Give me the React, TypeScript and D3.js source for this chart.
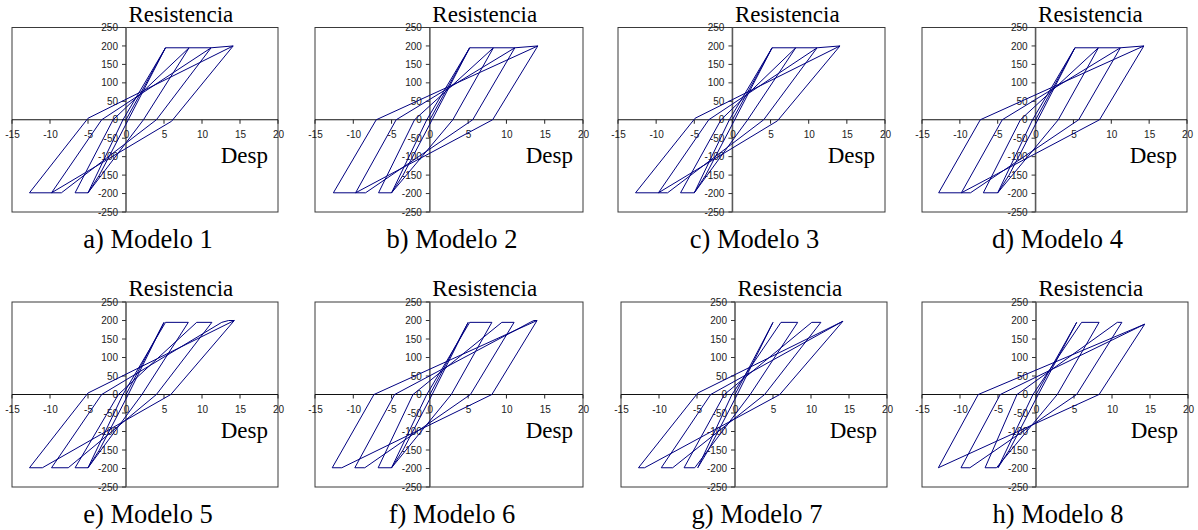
import React from "react";
import * as d3 from "d3";

type Pt = [number, number];

// Hysteresis curves (Desp, Resistencia)
const modelo1: Pt[] = [
  [0, 0], [5.2, 195], [0.3, 0], [-3.5, -150], [-5.0, -198], [-0.4, 0], [5.2, 195], [8.3, 195],
  [2.3, 0], [-5.0, -198], [-6.7, -198], [-1.7, 0], [8.3, 195], [11.2, 195],
  [4.0, 0], [-8.5, -198], [-9.8, -198], [-3.2, 0], [11.2, 195], [14.1, 200],
  [6.0, -4], [-9.8, -198], [-12.7, -198], [-5.0, 4], [14.1, 200],
];
const modelo2: Pt[] = [
  [0, 0], [5.2, 195], [0.3, 0], [-3.5, -150], [-5.0, -198], [-0.4, 0], [5.2, 195], [8.3, 195],
  [3.0, 0], [-5.0, -198], [-6.7, -198], [-2.0, 0], [8.3, 195], [11.1, 195],
  [5.6, 0], [-8.4, -198], [-9.7, -198], [-4.4, 0], [11.1, 195], [14.1, 200],
  [8.2, 0], [-9.7, -198], [-12.6, -198], [-7.0, 0], [14.1, 200],
];
const modelo3: Pt[] = [
  [0, 0], [5.2, 195], [0.3, 0], [-3.5, -150], [-5.0, -198], [-0.4, 0], [5.2, 195], [8.3, 195],
  [2.0, 0], [-5.0, -198], [-6.8, -198], [-1.5, 0], [8.3, 195], [11.1, 195],
  [4.1, 0], [-8.5, -198], [-9.7, -198], [-3.1, 0], [11.1, 195], [14.1, 200],
  [5.9, -3], [-9.7, -198], [-12.7, -198], [-4.9, 4], [14.1, 200],
];
const modelo4: Pt[] = [
  [0, 0], [5.2, 195], [0.3, 0], [-3.5, -150], [-5.0, -198], [-0.4, 0], [5.2, 195], [8.3, 195],
  [3.0, 0], [-5.0, -198], [-6.9, -198], [-2.0, 0], [8.3, 195], [11.2, 195],
  [5.7, 0], [-8.6, -198], [-9.8, -198], [-4.4, 0], [11.2, 195], [14.3, 200],
  [8.45, 0], [-9.8, -198], [-12.8, -198], [-7.3, 0], [14.3, 200],
];
const modelo5: Pt[] = [
  [0, 0], [5.0, 195], [0.3, 0], [-3.5, -150], [-5.0, -198], [-0.4, 0], [5.2, 195], [8.2, 195],
  [2.1, 0], [-5.0, -198], [-6.7, -198], [-1.0, 0], [9.3, 195], [11.3, 195],
  [4.0, 0], [-7.6, -198], [-9.8, -198], [-3.2, 0], [12.6, 195], [13.5, 200], [14.25, 200],
  [5.9, 0], [-11.0, -198], [-12.7, -198], [-5.0, 4], [14.25, 200],
];
const modelo6: Pt[] = [
  [0, 0], [5.0, 195], [0.3, 0], [-3.5, -150], [-5.0, -198], [-0.4, 0], [5.2, 195], [8.1, 195],
  [2.8, 0], [-5.0, -198], [-6.75, -198], [-2.2, 0], [9.4, 195], [11.0, 195],
  [5.3, 0], [-8.5, -198], [-9.8, -198], [-4.6, 0], [13.1, 195], [13.6, 200], [14.0, 200],
  [8.1, 0], [-11.5, -198], [-12.75, -198], [-7.3, 0], [14.0, 200],
];
const modelo7: Pt[] = [
  [0, 0], [5.0, 195], [0.3, 0], [-3.5, -150], [-4.9, -198], [-0.4, 0], [6.05, 195], [8.25, 195],
  [2.0, 0], [-5.3, -198], [-6.7, -198], [-1.4, 0], [10.1, 195], [11.3, 195],
  [3.9, 0], [-8.2, -198], [-9.7, -198], [-3.2, 0], [14.2, 198],
  [5.9, 0], [-11.9, -198], [-12.7, -198], [-4.9, 4], [14.2, 198],
];
const modelo8: Pt[] = [
  [0, 0], [5.35, 195], [0.3, 0], [-3.5, -150], [-5.0, -198], [-0.4, 0], [6.0, 195], [8.3, 195],
  [2.8, 0], [-5.2, -198], [-6.7, -198], [-2.5, 0], [10.7, 195], [11.3, 195],
  [5.35, 0], [-8.7, -198], [-9.87, -198], [-4.7, 0], [14.3, 190],
  [8.3, 0], [-12.85, -198], [-7.6, 0], [14.3, 190],
];

const modelos: Pt[][] = [modelo1, modelo2, modelo3, modelo4, modelo5, modelo6, modelo7, modelo8];
const captions = [
  "a) Modelo 1", "b) Modelo 2", "c) Modelo 3", "d) Modelo 4",
  "e) Modelo 5", "f) Modelo 6", "g) Modelo 7", "h) Modelo 8",
];
const xTicks = [-15, -10, -5, 0, 5, 10, 15, 20];
const yTicks = [-250, -200, -150, -100, -50, 0, 50, 100, 150, 200, 250];
const yTitle = "Resistencia";
const xTitle = "Desp";

// layout
const panelLeft = [12, 315, 618, 922, 12, 315, 621, 922];
const panelWidth = [266, 268, 267, 265, 266, 268, 266, 266];
const rowTop = [27.5, 302];
const rowBottom = [212, 487];

const SERIF = "'Liberation Serif', 'Times New Roman', serif";
const SANS = "'Liberation Sans', Arial, sans-serif";

function Panel({ idx }: { idx: number }) {
  const row = idx < 4 ? 0 : 1;
  const left = panelLeft[idx];
  const right = left + panelWidth[idx];
  const top = rowTop[row];
  const bottom = rowBottom[row];
  const x = d3.scaleLinear().domain([-15, 20]).range([left, right]);
  const y = d3.scaleLinear().domain([-250, 250]).range([bottom, top]);
  const line = d3
    .line<Pt>()
    .x((d) => x(d[0]))
    .y((d) => y(d[1]));
  const x0 = x(0);
  const y0 = y(0);
  return (
    <g>
      <rect x={left} y={top} width={right - left} height={bottom - top} fill="#fff" stroke="#3a3a3a" strokeWidth={1} />
      {/* y axis */}
      <line x1={x0} x2={x0} y1={top} y2={bottom} stroke="#5a5a5a" strokeWidth={1.6} />
      {yTicks.map((t) => (
        <g key={"y" + t}>
          <line x1={x0 - 4} x2={x0} y1={y(t)} y2={y(t)} stroke="#333" strokeWidth={1} />
          <text x={x0 - 8} y={y(t)} dy="0.36em" textAnchor="end" fontFamily={SANS} fontSize={10} fill="#222">
            {t}
          </text>
        </g>
      ))}
      {/* x axis */}
      <line x1={left} x2={right} y1={y0} y2={y0} stroke="#111" strokeWidth={1.2} />
      {xTicks.map((t) => (
        <g key={"x" + t}>
          <line x1={x(t)} x2={x(t)} y1={y0} y2={y0 + 4} stroke="#222" strokeWidth={1} />
          <text x={x(t) + 0.5} y={y0 + 18} textAnchor="middle" fontFamily={SANS} fontSize={10} fill="#222">
            {t}
          </text>
        </g>
      ))}
      <path d={line(modelos[idx]) || ""} fill="none" stroke="#000080" strokeWidth={1} strokeLinejoin="round" />
      <text x={x0 + 2.5} y={top - 6} fontFamily={SERIF} fontSize={23} fill="#000">
        {yTitle}
      </text>
      <text x={right - 10} y={y0 + 43.5} textAnchor="end" fontFamily={SERIF} fontSize={23} fill="#000">
        {xTitle}
      </text>
      <text x={(left + right) / 2 + 3} y={bottom + 35.5} textAnchor="middle" fontFamily={SERIF} fontSize={26.5} fill="#000">
        {captions[idx]}
      </text>
    </g>
  );
}

export default function App() {
  return (
    <svg
      width={1198}
      height={530}
      viewBox="0 0 1198 530"
      style={{ position: "absolute", left: 0, top: 0, background: "#fff" }}
    >
      <rect x={0} y={0} width={1198} height={530} fill="#fff" />
      {modelos.map((_, i) => (
        <Panel key={i} idx={i} />
      ))}
    </svg>
  );
}
